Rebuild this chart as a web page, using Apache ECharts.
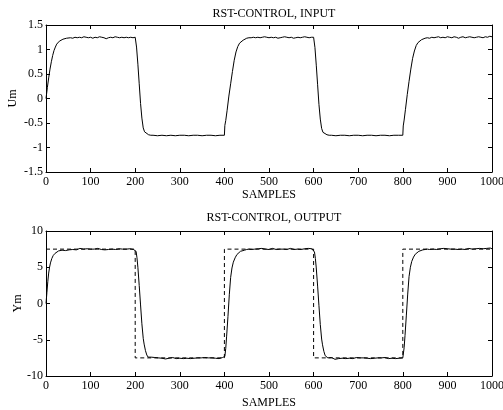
<!DOCTYPE html>
<html>
<head>
<meta charset="utf-8">
<script src="https://cdn.jsdelivr.net/npm/echarts@6/dist/echarts.min.js"></script>
<style>html,body{margin:0;padding:0;background:#fff}#c{width:503px;height:410px}</style>
</head>
<body>
<div id="c"></div>
<script>
const titles = ['RST-CONTROL, INPUT', 'RST-CONTROL, OUTPUT'];
const xName = 'SAMPLES';
const yNames = ['Um', 'Ym'];

const inputU = [
[0,0],[3,0.22],[6,0.42],[9,0.6],[12,0.75],[15,0.88],[18,0.98],[21,1.05],[24,1.11],[27,1.15],[30,1.17],[34,1.19],[38,1.21],[42,1.22],[46,1.23],[50,1.22],[55,1.24],[60,1.23],[65,1.25],[70,1.24],[75,1.25],[80,1.24],[85,1.26],[90,1.25],[95,1.24],[100,1.25],[105,1.23],[110,1.25],[115,1.24],[120,1.26],[125,1.25],[130,1.24],[135,1.22],[140,1.24],[145,1.25],[150,1.24],[155,1.26],[160,1.25],[165,1.24],[170,1.25],[175,1.24],[180,1.25],[185,1.24],[190,1.25],[195,1.24],[200,1.25],
[201,1.22],[203,1.05],[206,0.7],[209,0.3],[212,-0.1],[215,-0.4],[218,-0.6],[221,-0.68],[225,-0.72],[230,-0.74],[235,-0.75],[240,-0.75],[250,-0.76],[260,-0.75],[270,-0.76],[280,-0.75],[290,-0.76],[300,-0.75],[310,-0.75],[320,-0.76],[330,-0.75],[340,-0.75],[350,-0.76],[360,-0.75],[370,-0.75],[380,-0.76],[390,-0.75],[400,-0.75],
[401,-0.55],[403,-0.45],[406,-0.25],[410,0.05],[414,0.3],[418,0.55],[422,0.78],[426,0.95],[430,1.06],[434,1.13],[438,1.17],[442,1.19],[446,1.21],[450,1.23],[455,1.24],[460,1.24],[465,1.25],[470,1.24],[475,1.25],[480,1.24],[485,1.25],[490,1.26],[495,1.25],[500,1.24],[505,1.25],[510,1.24],[515,1.25],[520,1.23],[525,1.24],[530,1.25],[535,1.26],[540,1.25],[545,1.24],[550,1.25],[555,1.23],[560,1.24],[565,1.25],[570,1.24],[575,1.25],[580,1.26],[585,1.25],[590,1.24],[595,1.25],[600,1.25],
[601,1.22],[603,1.04],[606,0.68],[609,0.28],[612,-0.12],[615,-0.42],[618,-0.61],[621,-0.69],[625,-0.72],[630,-0.74],[635,-0.75],[640,-0.75],[650,-0.76],[660,-0.75],[670,-0.75],[680,-0.76],[690,-0.75],[700,-0.75],[710,-0.76],[720,-0.75],[730,-0.75],[740,-0.76],[750,-0.75],[760,-0.75],[770,-0.76],[780,-0.75],[790,-0.75],[800,-0.75],
[801,-0.56],[803,-0.44],[806,-0.22],[810,0.08],[814,0.35],[818,0.6],[822,0.82],[826,0.97],[830,1.08],[834,1.14],[838,1.18],[842,1.2],[846,1.21],[850,1.23],[855,1.24],[860,1.23],[865,1.25],[870,1.24],[875,1.25],[880,1.26],[885,1.24],[890,1.25],[895,1.24],[900,1.26],[905,1.25],[910,1.24],[915,1.26],[920,1.25],[925,1.23],[930,1.25],[935,1.26],[940,1.24],[945,1.25],[950,1.26],[955,1.25],[960,1.24],[965,1.25],[970,1.26],[975,1.25],[980,1.24],[985,1.26],[990,1.25],[995,1.27],[1000,1.26]
];

const outputY = [
[0,0],[2,1.5],[4,3.0],[6,4.2],[8,5.0],[10,5.6],[13,6.2],[16,6.6],[20,6.9],[24,7.1],[28,7.25],[32,7.3],[36,7.35],[40,7.4],[44,7.3],[48,7.45],[52,7.4],[56,7.5],[60,7.45],[64,7.55],[68,7.4],[72,7.5],[76,7.6],[80,7.45],[84,7.5],[88,7.4],[92,7.55],[96,7.45],[100,7.5],[104,7.35],[108,7.5],[112,7.45],[116,7.6],[120,7.5],[124,7.45],[128,7.55],[132,7.4],[136,7.5],[140,7.45],[144,7.55],[148,7.5],[152,7.6],[156,7.45],[160,7.5],[164,7.55],[168,7.45],[172,7.5],[176,7.6],[180,7.5],[184,7.45],[188,7.55],[192,7.5],[196,7.45],[200,7.5],
[202,7.2],[204,6.3],[206,5.0],[209,2.5],[212,-0.2],[215,-2.8],[218,-4.8],[220,-5.6],[223,-6.5],[226,-7.1],[229,-7.4],[232,-7.5],[236,-7.4],[240,-7.55],[244,-7.45],[248,-7.6],[252,-7.5],[256,-7.4],[260,-7.55],[264,-7.5],[268,-7.65],[272,-7.45],[276,-7.55],[280,-7.6],[284,-7.45],[288,-7.5],[292,-7.6],[296,-7.5],[300,-7.55],[304,-7.45],[308,-7.6],[312,-7.5],[316,-7.55],[320,-7.45],[324,-7.6],[328,-7.5],[332,-7.55],[336,-7.45],[340,-7.5],[344,-7.6],[348,-7.5],[352,-7.55],[356,-7.45],[360,-7.55],[364,-7.5],[368,-7.6],[372,-7.5],[376,-7.45],[380,-7.55],[384,-7.5],[388,-7.6],[392,-7.5],[396,-7.45],[400,-7.5],
[401,-7.3],[403,-6.2],[405,-4.5],[408,-1.8],[411,1.2],[414,3.6],[417,4.9],[420,5.7],[424,6.3],[428,6.75],[432,7.0],[436,7.2],[440,7.3],[445,7.35],[450,7.45],[455,7.5],[460,7.45],[464,7.55],[468,7.5],[472,7.4],[476,7.55],[480,7.5],[484,7.6],[488,7.45],[492,7.5],[496,7.55],[500,7.45],[504,7.5],[508,7.6],[512,7.5],[516,7.45],[520,7.55],[524,7.5],[528,7.4],[532,7.5],[536,7.55],[540,7.45],[544,7.5],[548,7.6],[552,7.5],[556,7.45],[560,7.55],[564,7.5],[568,7.6],[572,7.45],[576,7.5],[580,7.55],[584,7.5],[588,7.6],[592,7.5],[596,7.55],[600,7.5],
[602,7.1],[604,6.2],[606,4.9],[609,2.4],[612,-0.3],[615,-2.9],[618,-4.9],[620,-5.7],[623,-6.6],[626,-7.2],[629,-7.45],[632,-7.5],[636,-7.6],[640,-7.45],[644,-7.55],[648,-7.7],[652,-7.5],[656,-7.6],[660,-7.45],[664,-7.55],[668,-7.5],[672,-7.6],[676,-7.45],[680,-7.55],[684,-7.5],[688,-7.6],[692,-7.5],[696,-7.45],[700,-7.55],[704,-7.5],[708,-7.6],[712,-7.5],[716,-7.45],[720,-7.55],[724,-7.5],[728,-7.6],[732,-7.5],[736,-7.55],[740,-7.45],[744,-7.5],[748,-7.6],[752,-7.5],[756,-7.55],[760,-7.45],[764,-7.5],[768,-7.6],[772,-7.5],[776,-7.55],[780,-7.5],[784,-7.6],[788,-7.45],[792,-7.55],[796,-7.5],[800,-7.5],
[801,-7.3],[803,-6.1],[805,-4.4],[808,-1.6],[811,1.3],[814,3.7],[817,5.0],[820,5.8],[824,6.4],[828,6.8],[832,7.05],[836,7.2],[840,7.3],[845,7.4],[850,7.45],[855,7.5],[860,7.45],[864,7.55],[868,7.5],[872,7.6],[876,7.45],[880,7.5],[884,7.55],[888,7.45],[892,7.6],[896,7.5],[900,7.55],[904,7.45],[908,7.5],[912,7.65],[916,7.5],[920,7.55],[924,7.45],[928,7.6],[932,7.5],[936,7.55],[940,7.45],[944,7.5],[948,7.6],[952,7.55],[956,7.5],[960,7.45],[964,7.55],[968,7.5],[972,7.6],[976,7.5],[980,7.55],[984,7.45],[988,7.6],[992,7.5],[996,7.65],[1000,7.55]
];

const setpoint = [[0,7.5],[200,7.5],[200,-7.5],[400,-7.5],[400,7.5],[600,7.5],[600,-7.5],[800,-7.5],[800,7.5],[1000,7.5]];

const yRanges = [{min:-1.5,max:1.5,interval:0.5},{min:-10,max:10,interval:5}];
const xRange = {min:0,max:1000,interval:100};

const FONT = 'Liberation Serif';
const FS = 12;
const chart = echarts.init(document.getElementById('c'), null, {renderer:'canvas'});

const grids = [
  {left:46, top:25, width:446, height:147, containLabel:false, outerBoundsMode:'none'},
  {left:46, top:231, width:446, height:145, containLabel:false, outerBoundsMode:'none'}
];

const lineAxis = {onZero:false,lineStyle:{color:'#000',width:1}};
const tickIn = {inside:true,length:4,lineStyle:{color:'#000',width:1}};
const plain = v => String(v);

const xAxes = [], yAxes = [];
[0,1].forEach(i => {
  xAxes.push({gridIndex:i,type:'value',...xRange,position:'bottom',
    name:xName,nameLocation:'middle',nameGap:i===0?17:21,nameMoveOverlap:false,
    nameTextStyle:{fontFamily:FONT,fontSize:FS,color:'#000'},
    axisLine:lineAxis,axisTick:tickIn,splitLine:{show:false},
    axisLabel:{fontFamily:FONT,fontSize:FS,color:'#000',margin:4,formatter:plain}});
  xAxes.push({gridIndex:i,type:'value',...xRange,position:'top',
    axisLine:lineAxis,axisTick:tickIn,splitLine:{show:false},axisLabel:{show:false}});
  yAxes.push({gridIndex:i,type:'value',...yRanges[i],position:'left',
    name:yNames[i],nameLocation:'middle',nameGap:i===0?27:22,nameMoveOverlap:false,
    nameTextStyle:{fontFamily:FONT,fontSize:FS,color:'#000'},
    axisLine:lineAxis,axisTick:tickIn,splitLine:{show:false},
    axisLabel:{fontFamily:FONT,fontSize:FS,color:'#000',margin:3,formatter:plain}});
  yAxes.push({gridIndex:i,type:'value',...yRanges[i],position:'right',
    axisLine:lineAxis,axisTick:tickIn,splitLine:{show:false},axisLabel:{show:false}});
});

chart.setOption({
  animation:false,
  backgroundColor:'#fff',
  title:[
    {text:titles[0],left:269,top:3,textAlign:'center',textStyle:{fontFamily:FONT,fontSize:FS,fontWeight:'normal',color:'#000'}},
    {text:titles[1],left:269,top:207,textAlign:'center',textStyle:{fontFamily:FONT,fontSize:FS,fontWeight:'normal',color:'#000'}}
  ],
  grid:grids,
  xAxis:xAxes,
  yAxis:yAxes,
  series:[
    {type:'line',xAxisIndex:0,yAxisIndex:0,data:inputU,showSymbol:false,lineStyle:{color:'#000',width:1}},
    {type:'line',xAxisIndex:2,yAxisIndex:2,data:setpoint,showSymbol:false,lineStyle:{color:'#000',width:1,type:[4,3]}},
    {type:'line',xAxisIndex:2,yAxisIndex:2,data:outputY,showSymbol:false,lineStyle:{color:'#000',width:1}}
  ]
});
</script>
</body>
</html>
